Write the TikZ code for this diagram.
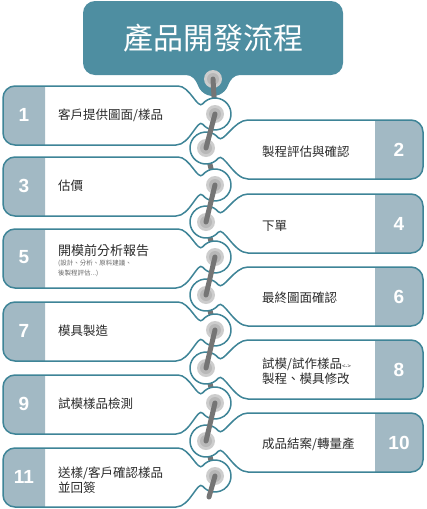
\documentclass[tikz,border=0pt]{standalone}
\usepackage{fontspec}
\usepackage{xcolor}
\usepackage{tikz}
\usetikzlibrary{calc}
\setmainfont{Noto Sans CJK TC}
\newfontfamily\numfont{Liberation Sans}

\definecolor{titlefill}{HTML}{4E8EA1}
\definecolor{tealline}{HTML}{3E8497}
\definecolor{tabfill}{HTML}{A2B9C4}
\definecolor{barcol}{HTML}{757575}
\definecolor{holeout}{HTML}{CDCDCD}
\definecolor{holein}{HTML}{B8B8B8}
\definecolor{textcol}{HTML}{2B2B2B}
\definecolor{textgrey}{HTML}{6A6A6A}

% card outlines, #1 = top edge
\newcommand{\leftcardpath}[1]{(15,#1) -- (178,#1) .. controls (190,#1) and (197.6,#1+23.9) .. (202.74,#1+17.72)
    arc[start angle=220, end angle=500, radius=16] .. controls (197.6,#1+32.1) and (190,#1+59) .. (176,#1+59)
    -- (15,#1+59) arc[start angle=90, end angle=180, radius=12] -- (3,#1+12) arc[start angle=180, end angle=270, radius=12] -- cycle}
\newcommand{\rightcardpath}[1]{(411,#1) arc[start angle=270, end angle=360, radius=12] -- (423,#1+47)
    arc[start angle=0, end angle=90, radius=12] -- (248,#1+59) .. controls (234,#1+59) and (223.4,#1+32.1) .. (218.26,#1+38.28)
    arc[start angle=40, end angle=320, radius=16] .. controls (223.4,#1+23.9) and (234,#1) .. (248,#1) -- cycle}

\begin{document}
\begin{tikzpicture}[x=1pt, y=-1pt,
    card/.style={draw=tealline, line width=1.5pt},
    numtxt/.style={text=white, font=\numfont\bfseries\fontsize{19}{19}\selectfont},
    steptext/.style={anchor=west, text=textcol, font=\fontsize{12.5}{15}\selectfont, align=left, inner sep=0pt},
    smalltext/.style={anchor=west, text=textgrey, font=\fontsize{6.5}{10}\selectfont, align=left, inner sep=0pt},
    bar/.style={draw=barcol, line width=5pt, line cap=round},
    hole/.style={circle, fill=holeout, minimum size=18pt, inner sep=0pt,
        path picture={\fill[holein] (path picture bounding box.center) circle (6pt);}}
]
    \useasboundingbox (0,0) rectangle (426,509);

    % Title
    \fill[titlefill] (95,1) -- (331,1) arc[start angle=270, end angle=360, radius=12] -- (343,63)
        arc[start angle=0, end angle=90, radius=12] -- (240,75) .. controls (234,75) and (230,79.9) .. (228.04,85.47)
        arc[start angle=20, end angle=160, radius=16] .. controls (196,79.9) and (192,75) .. (186,75)
        -- (95,75) arc[start angle=90, end angle=180, radius=12] -- (83,13) arc[start angle=180, end angle=270, radius=12] -- cycle;
    \node[text=white, font=\fontsize{30}{30}\selectfont] (title) at (213,38) {產品開發流程};

    % Hole positions
    \coordinate (h0) at (213,79);
    \foreach \i/\t in {1/86, 3/157, 5/229, 7/302, 9/375, 11/448}
        \coordinate (h\i) at (215,\t+28);
    \foreach \i/\t in {2/120, 4/194, 6/267, 8/340, 10/413}
        \coordinate (h\i) at (206,\t+28);
    \coordinate (tail) at (209,497);

    \node[hole] (hole0) at (h0) {};

    % Links under the cards
    \foreach \a/\b in {0/1, 2/3, 4/5, 6/7, 8/9, 10/11}
        \draw[bar] (h\a) -- (h\b);

    % Left cards
    \foreach \t in {86, 157, 229, 302, 375, 448} {
        \fill[white] \leftcardpath{\t};
        \fill[tabfill] (45,\t) -- (15,\t) arc[start angle=270, end angle=180, radius=12] -- (3,\t+47)
            arc[start angle=180, end angle=90, radius=12] -- (45,\t+59) -- cycle;
        \draw[card] \leftcardpath{\t};
    }

    % Right cards
    \foreach \t in {120, 194, 267, 340, 413} {
        \fill[white] \rightcardpath{\t};
        \fill[tabfill] (375,\t) -- (411,\t) arc[start angle=270, end angle=360, radius=12] -- (423,\t+47)
            arc[start angle=0, end angle=90, radius=12] -- (375,\t+59) -- cycle;
        \draw[card] \rightcardpath{\t};
    }

    % Holes
    \foreach \i in {1,...,11}
        \node[hole] (hole\i) at (h\i) {};

    % Links over the cards
    \foreach \a/\b in {1/2, 3/4, 5/6, 7/8, 9/10}
        \draw[bar] (h\a) -- (h\b);
    \draw[bar] (h11) -- (tail);

    % Numbers
    \foreach \i/\t in {1/86, 3/157, 5/229, 7/302, 9/375, 11/448}
        \node[numtxt] (n\i) at (24,\t+28.5) {\i};
    \foreach \i/\t in {2/120, 4/194, 6/267, 8/340, 10/413}
        \node[numtxt] (n\i) at (399,\t+30) {\i};

    % Step texts
    \node[steptext] (t1) at (58,115) {客戶提供圖面/樣品};
    \node[steptext] (t2) at (262,152) {製程評估與確認};
    \node[steptext] (t3) at (58,186) {估價};
    \node[steptext] (t4) at (262,226) {下單};
    \node[steptext, font=\fontsize{13}{15}\selectfont] (t5) at (58,251) {開模前分析報告};
    \node[smalltext] (t5b) at (58,268) {(設計、分析、原料建議、\\後製程評估...)};
    \node[steptext] (t6) at (262,298) {最終圖面確認};
    \node[steptext] (t7) at (58,331) {模具製造};
    \node[steptext] (t8) at (262,371) {試模/試作樣品{\fontsize{6}{6}\selectfont<->}\\製程、模具修改};
    \node[steptext] (t9) at (58,404) {試模樣品檢測};
    \node[steptext] (t10) at (262,444) {成品結案/轉量產};
    \node[steptext] (t11) at (58,480) {送樣/客戶確認樣品\\並回簽};
\end{tikzpicture}
\end{document}
